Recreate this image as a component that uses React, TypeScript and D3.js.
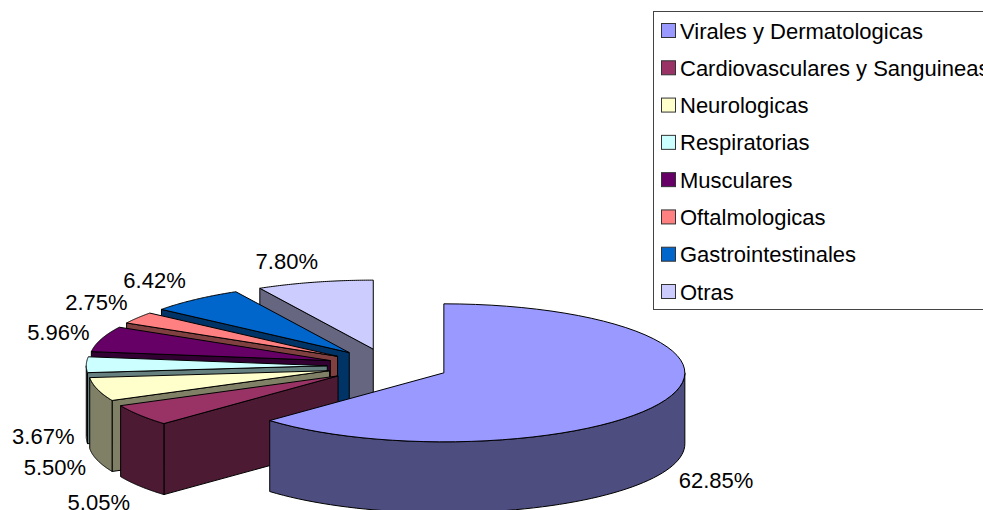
import React from "react";
import * as d3 from "d3";

const categories = ["Virales y Dermatologicas", "Cardiovasculares y Sanguineas", "Neurologicas", "Respiratorias", "Musculares", "Oftalmologicas", "Gastrointestinales", "Otras"];
const values = [62.85, 5.05, 5.5, 3.67, 5.96, 2.75, 6.42, 7.8];
const topColors = ["#9999FF", "#993366", "#FFFFCC", "#CCFFFF", "#660066", "#FF8080", "#0066CC", "#CCCCFF"];
const wallColors = ["#4D4D80", "#4D1A33", "#808066", "#668080", "#330033", "#804040", "#003366", "#666680"];
const labelNudgeX = [50.5, -41, -42.5, -43, -43, -41, -41, -28];
const labelNudgeY = [80.5, 87, 78, 72, -7, -15, -19, -21];

const W = 983, H = 510;
const cx = 388, cy = 366, rx = 241, ry = 69, depth = 71, explode = 0.252;
const FONT = "'Liberation Sans', Arial, sans-serif";
const FS = 22;

const HALF = Math.PI / 2;
const pie = d3.pie<number>().sort(null).value((d) => d);
const toPoint = (c: [number, number], a: number, dy = 0): [number, number] => [c[0] + rx * Math.sin(a), c[1] - ry * Math.cos(a) + dy];
const line = d3.line<[number, number]>();
const arcPts = (c: [number, number], a0: number, a1: number, dy = 0) =>
  d3.range(0, 61).map((i) => toPoint(c, a0 + ((a1 - a0) * i) / 60, dy));

const arcs = pie(values).map((s, i) => {
  const mid = (s.startAngle + s.endAngle) / 2;
  const c: [number, number] = [cx + explode * rx * Math.sin(mid), cy - explode * ry * Math.cos(mid)];
  const a0 = s.startAngle, a1 = s.endAngle;
  const top = line([c, ...arcPts(c, a0, a1)]) + "Z";
  const f0 = Math.max(a0, HALF), f1 = Math.min(a1, 3 * HALF);
  let outer: string | null = null;
  if (f1 > f0) {
    const upper = arcPts(c, f0, f1);
    const lower = arcPts(c, f0, f1, depth).reverse();
    outer = line([...upper, ...lower]) + "Z";
  }
  const p = toPoint(c, a0);
  const radial = i === 0 ? null : line([c, p, [p[0], p[1] + depth], [c[0], c[1] + depth]]) + "Z";
  const o: [number, number] = [cx + (1 + explode) * rx * Math.sin(mid), cy - (1 + explode) * ry * Math.cos(mid)];
  return { i, top, outer, radial, lx: o[0] + labelNudgeX[i], ly: o[1] + labelNudgeY[i] };
});

const order = d3.range(values.length).reverse().slice(0, 7).concat([0]);
const rowScale = d3.scalePoint<string>().domain(categories).range([31, 292]);

export default function App() {
  return (
    <svg width={W} height={H} viewBox={`0 0 ${W} ${H}`} style={{ position: "absolute", left: 0, top: 0, display: "block", background: "#fff" }}>
      {order.map((i) => {
        const a = arcs[i];
        return (
          <g key={i} stroke="#000" strokeWidth={1} strokeLinejoin="round">
            {a.radial && <path d={a.radial} fill={wallColors[i]} />}
            {a.outer && <path d={a.outer} fill={wallColors[i]} />}
            <path d={a.top} fill={topColors[i]} />
          </g>
        );
      })}
      {arcs.map((a) => (
        <text key={a.i} x={a.lx} y={a.ly} textAnchor="middle" dominantBaseline="central" fontFamily={FONT} fontSize={FS} fill="#000">
          {values[a.i].toFixed(2)}%
        </text>
      ))}
      <rect x={653.5} y={11.5} width={340} height={298} fill="#fff" stroke="#444" strokeWidth={1} />
      {categories.map((c, i) => {
        const y = rowScale(c) as number;
        return (
          <g key={c}>
            <rect x={661.5} y={y - 7.5} width={14} height={14} fill={topColors[i]} stroke="#333" strokeWidth={1} />
            <text x={680} y={y} dominantBaseline="central" fontFamily={FONT} fontSize={FS} fill="#000">{c}</text>
          </g>
        );
      })}
    </svg>
  );
}
